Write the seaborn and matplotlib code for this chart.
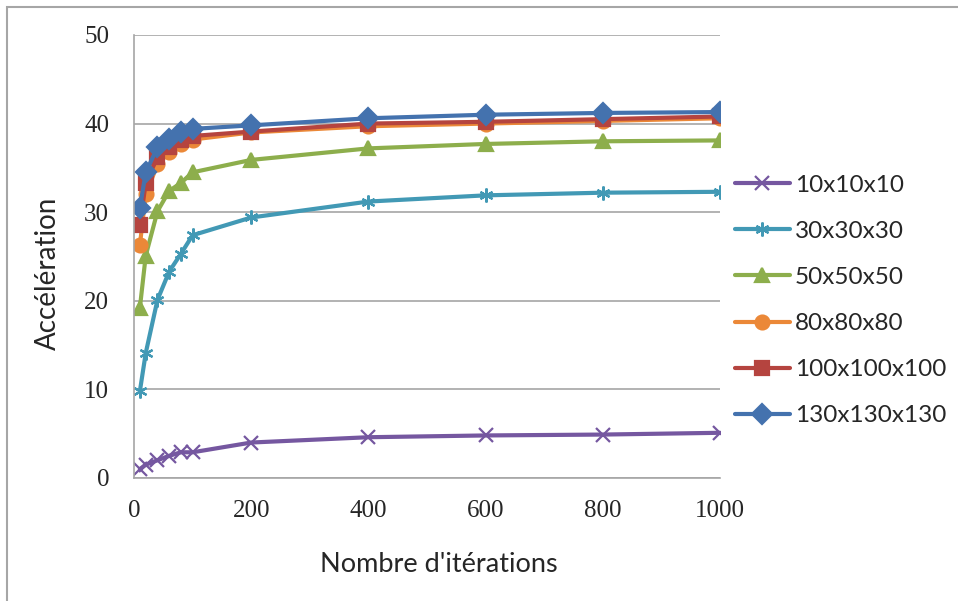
import matplotlib
matplotlib.use("Agg")
import matplotlib.pyplot as plt
import seaborn as sns
import pandas as pd
from matplotlib.patches import Rectangle

# iterations on the x axis
iterations = [10, 20, 40, 60, 80, 100, 200, 400, 600, 800, 1000]

# acceleration per grid size
s10 = [1.0, 1.5, 2.0, 2.5, 2.9, 2.9, 4.0, 4.6, 4.8, 4.9, 5.1]
s30 = [9.8, 14.1, 20.1, 23.3, 25.3, 27.4, 29.4, 31.2, 31.9, 32.2, 32.3]
s50 = [19.2, 25.1, 30.1, 32.4, 33.3, 34.5, 35.9, 37.2, 37.7, 38.0, 38.1]
s80 = [26.3, 32.0, 35.4, 36.8, 37.7, 38.2, 39.0, 39.7, 40.0, 40.3, 40.6]
s100 = [28.6, 33.3, 36.2, 37.4, 38.2, 38.6, 39.1, 40.0, 40.2, 40.5, 40.8]
s130 = [30.5, 34.5, 37.3, 38.3, 39.0, 39.4, 39.8, 40.6, 41.0, 41.2, 41.3]

labels = ["10x10x10", "30x30x30", "50x50x50", "80x80x80", "100x100x100", "130x130x130"]
series = [s10, s30, s50, s80, s100, s130]

colors = ["#7557A0", "#4299B5", "#8DAE4C", "#EB8838", "#B5443F", "#4472AE"]
markers = ["x", (6, 2, 0), "^", "o", "s", "D"]

sns.set_style("white")
fig = plt.figure(figsize=(9.58, 6.01), dpi=100)
ax = fig.add_axes([0.1399, 0.2047, 0.6117, 0.7371])

for lab, vals, col, mk in zip(labels, series, colors, markers):
    d = pd.DataFrame({"iter": iterations, "acc": vals})
    sns.lineplot(data=d, x="iter", y="acc", color=col, marker=mk,
                 linewidth=3, markersize=10, markeredgewidth=1.6,
                 markeredgecolor=col, label=lab, ax=ax)

ax.set_xlim(0, 1000)
ax.set_ylim(0, 50)
ax.set_xticks([0, 200, 400, 600, 800, 1000])
ax.set_yticks([0, 10, 20, 30, 40, 50])
ax.yaxis.grid(True, color="#A6A6A6", linewidth=1.2)
ax.set_axisbelow(True)
for side in ["top", "right"]:
    ax.spines[side].set_visible(False)
for side in ["left", "bottom"]:
    ax.spines[side].set_color("#A6A6A6")
    ax.spines[side].set_linewidth(1.2)
ax.tick_params(length=0, labelsize=18)
ax.tick_params(axis="x", pad=16)
ax.tick_params(axis="y", pad=18)
for t in ax.get_xticklabels() + ax.get_yticklabels():
    t.set_fontfamily("Liberation Serif")

ax.set_xlabel("Nombre d'itérations", fontsize=19.5, family="Lato")
ax.set_ylabel("Accélération", fontsize=20, family="Lato")
ax.xaxis.set_label_coords(0.52, -0.167)
ax.yaxis.set_label_coords(-0.125, 0.463)

handles, labs = ax.get_legend_handles_labels()
ax.get_legend().remove()
fig.legend(handles, labs, loc="center left", bbox_to_anchor=(0.767, 0.5),
           frameon=False, prop={"family": "Lato", "size": 17.5},
           handlelength=2.26, labelspacing=1.03, handletextpad=0.2,
           borderpad=0, borderaxespad=0)

fig.patches.append(Rectangle((7 / 958, -0.05), 1.1, 1 - 7 / 601 + 0.05,
                             transform=fig.transFigure, fill=False,
                             edgecolor="#A6A6A6", linewidth=1.5))

fig.savefig("out.png", dpi=100)
